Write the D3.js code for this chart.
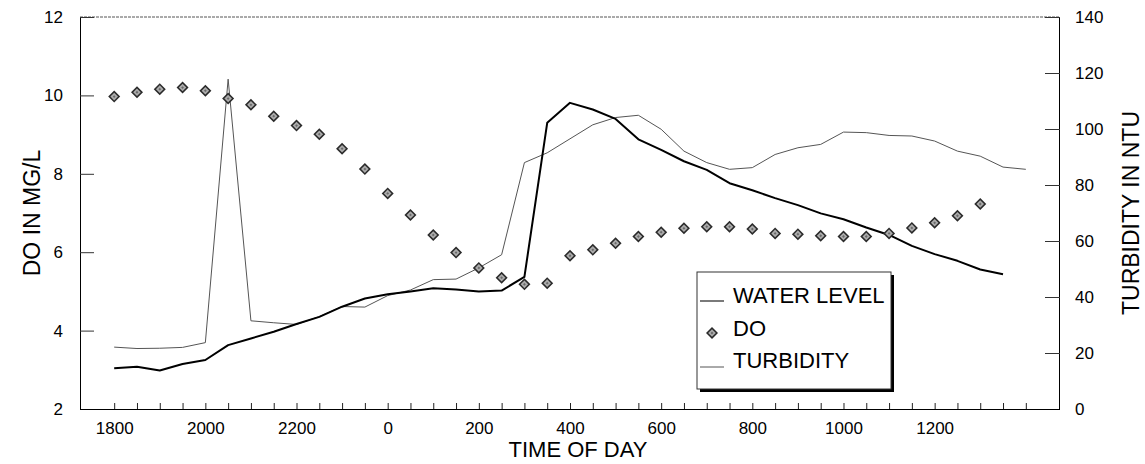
<!DOCTYPE html>
<html>
<head>
<meta charset="utf-8">
<script src="https://cdn.jsdelivr.net/npm/d3@7"></script>
<style>
  html, body { margin: 0; padding: 0; background: #fff; }
  svg { display: block; }
  text { font-family: "Liberation Sans", Arial, Helvetica, sans-serif; fill: #000; }
</style>
</head>
<body>
<svg id="chart" width="1145" height="464"></svg>
<script>
// ---------------- data ----------------
const times = ["1800","1830","1900","1930","2000","2030","2100","2130","2200","2230","2300","2330",
  "0","30","100","130","200","230","300","330",
  "400","430","500","530","600","630","700","730","800","830","900","930",
  "1000","1030","1100","1130","1200","1230","1300","1330","1400"];

const doValues = [9.97,10.08,10.16,10.20,10.12,9.92,9.76,9.47,9.23,9.01,8.64,8.12,
  7.50,6.95,6.44,5.99,5.60,5.35,5.18,5.21,
  5.91,6.06,6.23,6.40,6.51,6.61,6.65,6.65,6.59,6.48,6.46,6.42,
  6.40,6.40,6.48,6.62,6.75,6.93,7.23];

const waterLevel = [3.04,3.08,2.98,3.15,3.25,3.63,3.80,3.97,4.17,4.35,4.61,4.82,
  4.93,5.00,5.08,5.05,5.00,5.02,5.37,9.30,
  9.81,9.64,9.40,8.88,8.61,8.32,8.10,7.76,7.58,7.38,7.20,6.99,
  6.84,6.63,6.44,6.16,5.95,5.78,5.56,5.44];

const turbidity = [22.1,21.6,21.7,22.0,23.7,117.8,31.5,30.8,30.2,33.0,36.6,36.4,
  40.5,42.5,46.2,46.4,50.4,55.1,88.0,91.5,
  96.5,101.5,104.1,104.9,99.9,92.1,88.0,85.6,86.2,90.9,93.3,94.5,
  98.9,98.7,97.7,97.5,95.7,92.1,90.3,86.4,85.6];

const xTickLabels = ["1800","2000","2200","0","200","400","600","800","1000","1200"];
const leftTicks = [2,4,6,8,10,12];
const rightTicks = [0,20,40,60,80,100,120,140];
const legendLabels = ["WATER LEVEL","DO","TURBIDITY"];

// ---------------- helpers ----------------
// hours elapsed since 1800
function hoursOf(t) {
  const n = +t;
  const h = Math.floor(n / 100) + (n % 100) / 60;
  return (h - 18 + 24) % 24;
}

const svg = d3.select("#chart");
const M = { left: 80, top: 17, right: 1060, bottom: 409 };

const x = d3.scaleLinear().domain([-0.75, 20.75]).range([M.left, M.right]);
const yL = d3.scaleLinear().domain([2, 12]).range([M.bottom, M.top]);
const yR = d3.scaleLinear().domain([0, 140]).range([M.bottom, M.top]);

// ---------------- frame ----------------
svg.append("line").attr("x1", M.left).attr("x2", M.right).attr("y1", M.top).attr("y2", M.top)
  .attr("stroke", "#555").attr("stroke-width", 1).attr("stroke-dasharray", "3,1");

// left axis
const axL = d3.axisLeft(yL).tickValues(leftTicks).tickSize(-14).tickPadding(17).tickFormat(d3.format("d"));
const gL = svg.append("g").attr("transform", `translate(${M.left},0)`).call(axL);
gL.select(".domain").attr("stroke", "#000").attr("d", `M0.5,${M.top}V${M.bottom}`);
gL.selectAll(".tick line").attr("stroke", "#333");
gL.selectAll(".tick text").style("font-size", "17px").attr("font-family", null);

// right axis
const axR = d3.axisRight(yR).tickValues(rightTicks).tickSize(-15).tickPadding(15).tickFormat(d3.format("d"));
const gR = svg.append("g").attr("transform", `translate(${M.right},0)`).call(axR);
gR.select(".domain").attr("stroke", "#000").attr("d", `M-0.5,${M.top}V${M.bottom}`);
gR.selectAll(".tick line").attr("stroke", "#333");
gR.selectAll(".tick text").style("font-size", "17px").attr("font-family", null);

// bottom axis: minor ticks every half hour
const minorVals = times.map(hoursOf);
const axBminor = d3.axisBottom(x).tickValues(minorVals).tickSize(-6).tickFormat("");
const gB = svg.append("g").attr("transform", `translate(0,${M.bottom})`).call(axBminor);
gB.select(".domain").attr("stroke", "#000").attr("d", `M${M.left},0.5H${M.right}`);
gB.selectAll(".tick line").attr("stroke", "#222");

const axBlab = d3.axisBottom(x).tickValues(xTickLabels.map(hoursOf)).tickSize(0).tickPadding(13)
  .tickFormat((d, i) => xTickLabels[i]);
const gB2 = svg.append("g").attr("transform", `translate(0,${M.bottom})`).call(axBlab);
gB2.select(".domain").remove();
gB2.selectAll(".tick text").style("font-size", "17px").attr("font-family", null);

// axis titles
svg.append("text").attr("transform", `translate(32,${(M.top + M.bottom) / 2}) rotate(-90)`)
  .attr("text-anchor", "middle").attr("dominant-baseline", "central").style("font-size", "23px").text("DO IN MG/L");
svg.append("text").attr("transform", `translate(1131,${(M.top + M.bottom) / 2}) rotate(-90)`)
  .attr("text-anchor", "middle").attr("dominant-baseline", "central").style("font-size", "23px").text("TURBIDITY IN NTU");
svg.append("text").attr("x", 578).attr("y", 457).attr("text-anchor", "middle")
  .style("font-size", "22px").text("TIME OF DAY");

// ---------------- series ----------------
const turbLine = d3.line().x((d, i) => x(hoursOf(times[i]))).y(d => yR(d));
svg.append("path").datum(turbidity).attr("d", turbLine)
  .attr("fill", "none").attr("stroke", "#555").attr("stroke-width", 1);

const wlLine = d3.line().x((d, i) => x(hoursOf(times[i]))).y(d => yL(d));
svg.append("path").datum(waterLevel).attr("d", wlLine)
  .attr("fill", "none").attr("stroke", "#000").attr("stroke-width", 2).attr("stroke-linejoin", "round");

const diamond = (cx, cy, r) => `M${cx},${cy - r}L${cx + r},${cy}L${cx},${cy + r}L${cx - r},${cy}Z`;
function drawDiamond(g, cx, cy) {
  g.append("path").attr("d", diamond(cx, cy, 6)).attr("fill", "#2a2a2a");
  g.append("path").attr("d", diamond(cx, cy, 3.8)).attr("fill", "#acacac");
  g.append("path").attr("d", diamond(cx, cy, 1.4)).attr("fill", "#6a6a6a");
}
const gDO = svg.append("g");
doValues.forEach((v, i) => drawDiamond(gDO, x(hoursOf(times[i])), yL(v)));

// ---------------- legend ----------------
const L = { x: 697, y: 272, w: 194, h: 117 };
svg.append("rect").attr("x", L.x + 3).attr("y", L.y + 3).attr("width", L.w).attr("height", L.h).attr("fill", "#000");
svg.append("rect").attr("x", L.x).attr("y", L.y).attr("width", L.w).attr("height", L.h)
  .attr("fill", "#fff").attr("stroke", "#333").attr("stroke-width", 1);

const rowsY = [295, 328, 360];
svg.append("line").attr("x1", L.x + 3).attr("x2", L.x + 27).attr("y1", rowsY[0] + 6).attr("y2", rowsY[0] + 6)
  .attr("stroke", "#222").attr("stroke-width", 1.2);
drawDiamond(svg.append("g"), L.x + 15, rowsY[1] + 5);
svg.append("line").attr("x1", L.x + 3).attr("x2", L.x + 27).attr("y1", rowsY[2] + 7).attr("y2", rowsY[2] + 7)
  .attr("stroke", "#555").attr("stroke-width", 1);
legendLabels.forEach((t, i) => {
  svg.append("text").attr("x", L.x + 36).attr("y", rowsY[i]).attr("dominant-baseline", "central")
    .style("font-size", "22px").text(t);
});
</script>
</body>
</html>
